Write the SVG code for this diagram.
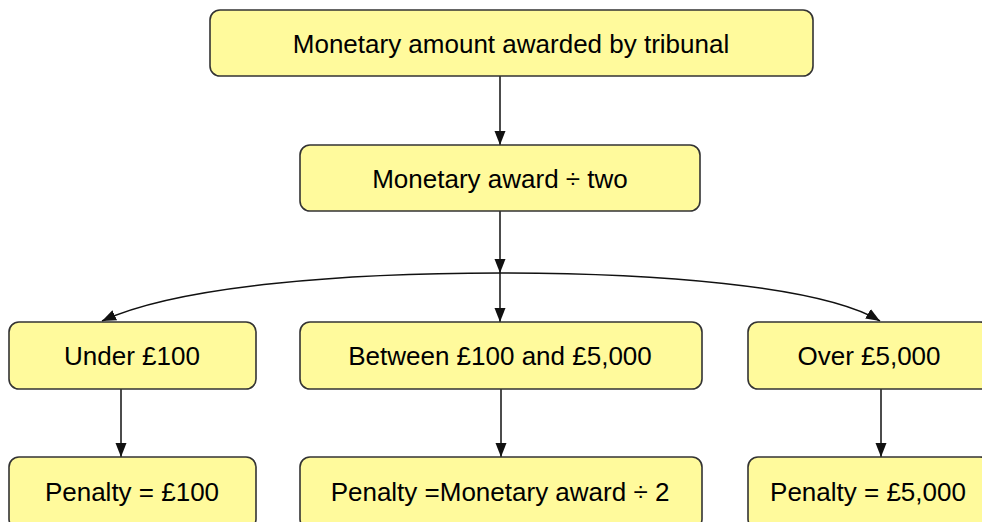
<svg xmlns="http://www.w3.org/2000/svg" width="982" height="522" viewBox="0 0 982 522">
<style>
.box{fill:#FFFA9C;stroke:#333;stroke-width:1.6}
.t{font-family:"Liberation Sans",Arial,sans-serif;font-size:26px;fill:#000;text-anchor:middle}
.c{fill:none;stroke:#111;stroke-width:1.5;marker-end:url(#ah)}
</style>
<defs>
<marker id="ah" viewBox="0 0 14 12" refX="14" refY="6" markerWidth="14" markerHeight="12" markerUnits="userSpaceOnUse" orient="auto">
<path d="M0,0.5 L14,6 L0,11.5 Z" fill="#111"/>
</marker>
</defs>
<rect width="982" height="522" fill="#fff"/>
<g id="connectors">
<path class="c" d="M500,76 V145"/>
<path class="c" d="M500,211 V273"/>
<path class="c" d="M500,273 V322"/>
<path class="c" d="M500,273 C350,273 180,285 102,321"/>
<path class="c" d="M500,273 C650,273 820,285 880,321"/>
<path class="c" d="M121,389 V457"/>
<path class="c" d="M501,389 V457"/>
<path class="c" d="M881,389 V457"/>
</g>
<g id="n-top"><rect class="box" x="210" y="10" width="603" height="66" rx="10"/><text class="t" x="511" y="53">Monetary amount awarded by tribunal</text></g>
<g id="n-half"><rect class="box" x="300" y="145" width="400" height="66" rx="10"/><text class="t" x="500" y="188">Monetary award ÷ two</text></g>
<g id="n-under"><rect class="box" x="9" y="322" width="247" height="67" rx="10"/><text class="t" x="132" y="365">Under £100</text></g>
<g id="n-between"><rect class="box" x="300" y="322" width="402" height="67" rx="10"/><text class="t" x="500" y="365">Between £100 and £5,000</text></g>
<g id="n-over"><rect class="box" x="748" y="322" width="242" height="67" rx="10"/><text class="t" x="869" y="365">Over £5,000</text></g>
<g id="n-p1"><rect class="box" x="9" y="457" width="247" height="72" rx="10"/><text class="t" x="132" y="501">Penalty = £100</text></g>
<g id="n-p2"><rect class="box" x="300" y="457" width="402" height="72" rx="10"/><text class="t" x="500" y="501">Penalty =Monetary award ÷ 2</text></g>
<g id="n-p3"><rect class="box" x="748" y="457" width="242" height="72" rx="10"/><text class="t" x="868" y="501">Penalty = £5,000</text></g>
</svg>
